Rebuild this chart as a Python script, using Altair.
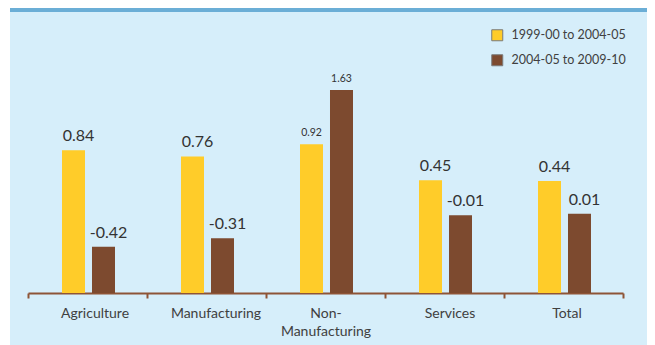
import altair as alt
import pandas as pd

categories = ["Agriculture", "Manufacturing", "Non-Manufacturing", "Services", "Total"]
periods = ["1999-00 to 2004-05", "2004-05 to 2009-10"]
values_p1 = [0.84, 0.76, 0.92, 0.45, 0.44]
values_p2 = [-0.42, -0.31, 1.63, -0.01, 0.01]

rows = []
for c, a, b in zip(categories, values_p1, values_p2):
    rows.append({"category": c, "period": periods[0], "value": a, "label": f"{a:.2f}"})
    rows.append({"category": c, "period": periods[1], "value": b, "label": f"{b:.2f}"})
df = pd.DataFrame(rows)

YMIN, YMAX = -1.027, 2.612
W, H = 595, 278
BG = "#D6EEFA"
YELLOW = "#FFCC29"
BROWN = "#7D4A2F"
AXIS = "#8E5436"
TXT = "#404040"

x_enc = alt.X("category:N", sort=categories, title=None,
              scale=alt.Scale(paddingInner=0, paddingOuter=0),
              axis=alt.Axis(labelAngle=0, labelFont="Lato", labelFontSize=14, labelColor=TXT,
                            labelPadding=8, labelLineHeight=18.4, labelBaseline="top",
                            domainColor=AXIS, domainWidth=2, tickColor=AXIS, tickWidth=2,
                            tickSize=5, tickBand="extent", grid=False,
                            labelExpr="datum.label == 'Non-Manufacturing' ? ['Non-', 'Manufacturing'] : datum.label",
                            labelOffset={"condition": [
                                {"test": "datum.value === 'Agriculture'", "value": 7},
                                {"test": "datum.value === 'Manufacturing'", "value": 9},
                                {"test": "datum.value === 'Services'", "value": 5},
                                {"test": "datum.value === 'Total'", "value": 3}],
                                "value": 0}))
xo_enc = alt.XOffset("period:N", sort=periods,
                     scale=alt.Scale(range=[34, 87], paddingInner=0.2333, paddingOuter=0))
y_scale = alt.Scale(domain=[YMIN, YMAX], zero=False, nice=False)

base = alt.Chart(df)

bars = base.mark_bar().encode(
    x=x_enc, xOffset=xo_enc,
    y=alt.Y("value:Q", scale=y_scale, axis=None),
    y2=alt.datum(YMIN),
    color=alt.Color("period:N", sort=periods,
                    scale=alt.Scale(domain=periods, range=[YELLOW, BROWN]),
                    legend=alt.Legend(title=None, orient="none", legendX=463, legendY=14,
                                      symbolType="square", symbolSize=121,
                                      symbolStrokeColor="#7a7a7a", symbolStrokeWidth=1,
                                      labelFont="Lato", labelFontSize=12.5, labelColor=TXT,
                                      labelOffset=8, rowPadding=9, padding=0)),
)

big = base.transform_filter(alt.datum.category != "Non-Manufacturing").mark_text(
    font="Lato", fontSize=16, color="#333333", baseline="alphabetic", dy=-9, dx=5
).encode(x=alt.X("category:N", sort=categories), xOffset=xo_enc,
         y=alt.Y("value:Q", scale=y_scale), text="label:N")

small = base.transform_filter(alt.datum.category == "Non-Manufacturing").mark_text(
    font="Lato", fontSize=10.5, color="#333333", baseline="alphabetic", dy=-8
).encode(x=alt.X("category:N", sort=categories), xOffset=xo_enc,
         y=alt.Y("value:Q", scale=y_scale), text="label:N")

stripe = alt.Chart(pd.DataFrame({"a": [0]})).mark_rect(color="#6BAED6").encode(
    x=alt.value(-20), x2=alt.value(W + 24), y=alt.value(-7), y2=alt.value(-3))
left_white = alt.Chart(pd.DataFrame({"a": [0]})).mark_rect(color="white").encode(
    x=alt.value(-20), x2=alt.value(-18), y=alt.value(-7), y2=alt.value(H + 52))

chart = alt.layer(stripe, left_white, bars, big, small).properties(
    width=W, height=H,
    autosize=alt.AutoSizeParams(type="none"),
    padding={"left": 20, "top": 7, "right": 24, "bottom": 52},
    background=BG,
).configure_view(stroke=None)

chart.save("out.html", embed_options={"renderer": "svg", "actions": False})
